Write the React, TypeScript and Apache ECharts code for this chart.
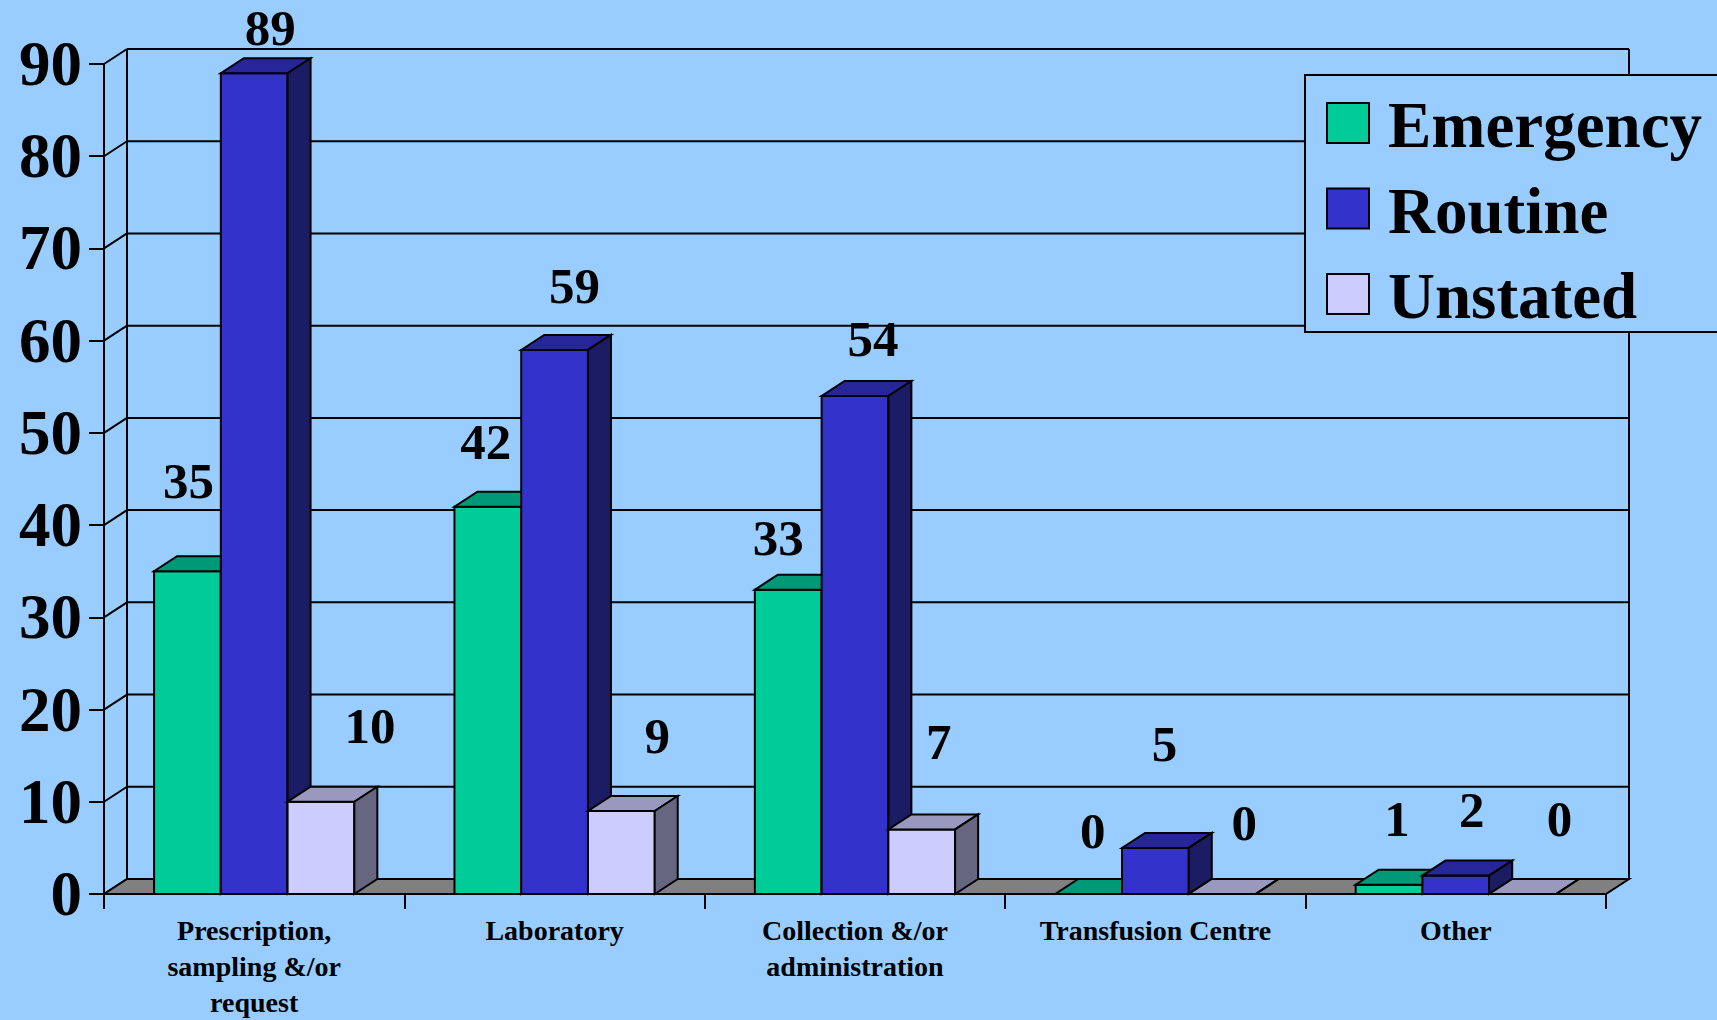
import React, { useEffect, useRef } from "react";
import * as echarts from "echarts";

// ---- data ----
const categories = [
  "Prescription,\nsampling &/or\nrequest",
  "Laboratory",
  "Collection &/or\nadministration",
  "Transfusion Centre",
  "Other",
];
const emergency = [35, 42, 33, 0, 1];
const routine = [89, 59, 54, 5, 2];
const unstated = [10, 9, 7, 0, 0];
const seriesNames = ["Emergency", "Routine", "Unstated"];
const yTicks = [0, 10, 20, 30, 40, 50, 60, 70, 80, 90];

// ---- styles ----
const BG = "#99CCFF";
const FRONT = ["#00CC99", "#3333CC", "#CCCCFF"];
const TOP = ["#009977", "#262699", "#9999BF"];
const SIDE = ["#006644", "#1C1C64", "#666680"];
const DX = 23;
const DY = 15;
const SERIF = "'Liberation Serif', 'Times New Roman', serif";
// label nudges (pixels, relative to the bar's front-top centre), as placed in the original slide
const LABEL_SHIFT_X = [
  [1, -2, -10, 4, 8],
  [16, 20, 18, 9, 16],
  [49, 36, 17, 22, 37],
];
const LABEL_RAISE = [
  [90, 65, 52, 63, 66],
  [45, 64, 57, 104, 66],
  [76, 75, 87, 71, 75],
];

export default function App() {
  const ref = useRef<HTMLDivElement>(null);
  useEffect(() => {
    document.body.style.margin = "0";
    const chart = echarts.init(ref.current as HTMLDivElement, null, { renderer: "svg" });
    const allData = [emergency, routine, unstated];

    const barSeries = allData.map((arr, s) => ({
      type: "custom",
      name: seriesNames[s],
      z: 5,
      clip: false,
      itemStyle: { color: FRONT[s] },
      encode: { x: 0, y: 1 },
      data: arr.map((v, i) => [i, v]),
      renderItem: (params: any, api: any) => {
        const ci = api.value(0);
        const v = api.value(1);
        const base = api.coord([ci, 0]);
        const top = api.coord([ci, v]);
        const band = api.size([1, 0])[0];
        const bw = (band * 2) / 9;
        const x0 = base[0] + (s - 1.5) * bw;
        const x1 = x0 + bw;
        const y0 = base[1];
        const yt = top[1];
        const stroke = { stroke: "#000", lineWidth: 2, lineJoin: "miter" };
        const idx = params.dataIndex;
        return {
          type: "group",
          children: [
            {
              type: "rect",
              shape: { x: x0, y: yt, width: bw, height: y0 - yt },
              style: { fill: FRONT[s], ...stroke },
            },
            {
              type: "polygon",
              shape: {
                points: [
                  [x0, yt],
                  [x1, yt],
                  [x1 + DX, yt - DY],
                  [x0 + DX, yt - DY],
                ],
              },
              style: { fill: TOP[s], ...stroke },
            },
            {
              type: "polygon",
              shape: {
                points: [
                  [x1, yt],
                  [x1 + DX, yt - DY],
                  [x1 + DX, y0 - DY],
                  [x1, y0],
                ],
              },
              style: { fill: SIDE[s], ...stroke },
            },
            {
              type: "text",
              x: x0 + bw / 2 + LABEL_SHIFT_X[s][idx],
              y: yt - LABEL_RAISE[s][idx],
              z2: 100,
              style: {
                text: String(v),
                fill: "#000",
                fontSize: 51,
                fontWeight: "bold",
                fontFamily: SERIF,
                align: "center",
                verticalAlign: "middle",
              },
            },
          ],
        };
      },
    }));

    const wallSeries = {
      type: "custom",
      name: "wall",
      z: 1,
      clip: false,
      silent: true,
      encode: { x: 0, y: 1 },
      data: yTicks.map((t) => [0, t]),
      renderItem: (params: any, api: any) => {
        const cs = params.coordSys;
        const y = api.coord([0, api.value(1)])[1];
        const ls = { stroke: "#000", lineWidth: 2 };
        return {
          type: "group",
          children: [
            { type: "line", shape: { x1: cs.x + DX, y1: y - DY, x2: cs.x + cs.width + DX, y2: y - DY }, style: ls },
            { type: "line", shape: { x1: cs.x, y1: y, x2: cs.x + DX, y2: y - DY }, style: ls },
          ],
        };
      },
    };

    const floorSeries = {
      type: "custom",
      name: "floor",
      z: 2,
      clip: false,
      silent: true,
      encode: { x: 0, y: 1 },
      data: [[0, 0]],
      renderItem: (params: any, api: any) => {
        const cs = params.coordSys;
        const yb = cs.y + cs.height;
        const yTop = cs.y;
        const ls = { stroke: "#000", lineWidth: 2 };
        const xl = cs.x;
        const xr = cs.x + cs.width;
        return {
          type: "group",
          children: [
            { type: "line", shape: { x1: xl + DX, y1: yTop - DY, x2: xl + DX, y2: yb - DY }, style: ls },
            { type: "line", shape: { x1: xr + DX, y1: yTop - DY, x2: xr + DX, y2: yb - DY }, style: ls },
            {
              type: "polygon",
              shape: {
                points: [
                  [xl, yb],
                  [xr, yb],
                  [xr + DX, yb - DY],
                  [xl + DX, yb - DY],
                ],
              },
              style: { fill: "#808080", stroke: "#000", lineWidth: 2 },
            },
          ],
        };
      },
    };

    const legendEls: any[] = [
      {
        type: "rect",
        z: 100,
        shape: { x: 1305, y: 75, width: 520, height: 257 },
        style: { fill: BG, stroke: "#000", lineWidth: 2 },
      },
    ];
    seriesNames.forEach((n, i) => {
      legendEls.push({
        type: "rect",
        z: 101,
        shape: { x: 1327, y: 103 + i * 85.5, width: 42, height: 40 },
        style: { fill: FRONT[i], stroke: "#000", lineWidth: 2 },
      });
      legendEls.push({
        type: "text",
        z: 101,
        x: 1388,
        y: 125 + i * 85.5,
        style: {
          text: n,
          fill: "#000",
          fontSize: 65,
          fontWeight: "bold",
          fontFamily: SERIF,
          align: "left",
          verticalAlign: "middle",
        },
      });
    });

    const option: any = {
      animation: false,
      backgroundColor: BG,
      grid: { left: 104, right: 111, top: 64, bottom: 123, containLabel: false },
      xAxis: {
        type: "category",
        data: categories,
        axisLine: { show: true, lineStyle: { color: "#000", width: 2 } },
        axisTick: { show: true, length: 15, lineStyle: { color: "#000", width: 2 } },
        axisLabel: {
          interval: 0,
          margin: 18,
          color: "#000",
          fontSize: 28,
          fontWeight: "bold",
          fontFamily: SERIF,
          lineHeight: 36,
          align: "center",
        },
        splitLine: { show: false },
      },
      yAxis: {
        type: "value",
        min: 0,
        max: 90,
        interval: 10,
        axisLine: { show: true, lineStyle: { color: "#000", width: 2 } },
        axisTick: { show: true, length: 15, lineStyle: { color: "#000", width: 2 } },
        axisLabel: {
          margin: 22,
          color: "#000",
          fontSize: 63,
          fontWeight: "bold",
          fontFamily: SERIF,
          padding: [10, 0, 0, 0],
        },
        splitLine: { show: false },
      },
      series: [wallSeries, floorSeries, ...barSeries],
      graphic: legendEls,
    };
    chart.setOption(option);
    return () => chart.dispose();
  }, []);
  return (
    <div
      ref={ref}
      style={{ position: "fixed", left: 0, top: 0, width: 1717, height: 1020 }}
    />
  );
}
